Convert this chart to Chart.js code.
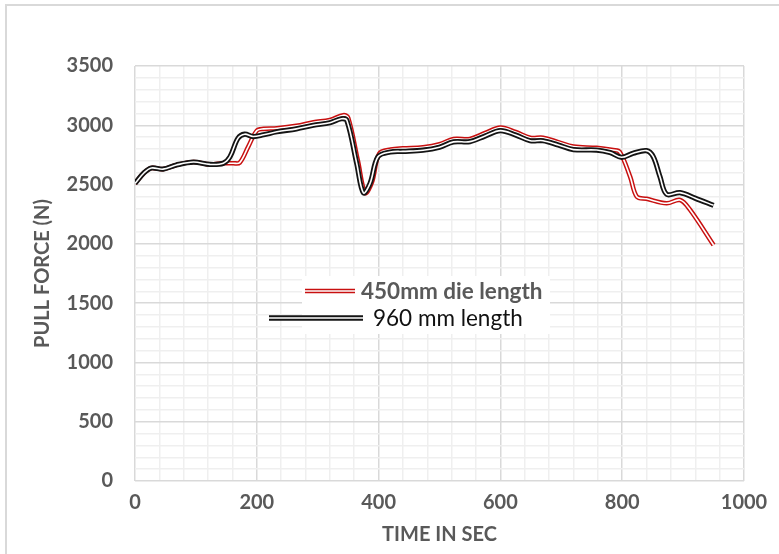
<!DOCTYPE html>
<html>
<head>
<meta charset="utf-8">
<script src="https://cdn.jsdelivr.net/npm/chart.js@4/dist/chart.umd.min.js"></script>
<style>
  html, body { margin: 0; padding: 0; background: #fff; }
  #wrap { position: relative; width: 779px; height: 554px; overflow: hidden; }
  #frame { position: absolute; left: 5px; top: 4px; width: 800px; height: 600px; border: 2px solid #d9d9d9; box-sizing: border-box; pointer-events: none; }
  canvas { position: absolute; left: 0; top: 0; }
</style>
</head>
<body>
<div id="wrap">
  <canvas id="c" width="779" height="554"></canvas>
  <div id="frame"></div>
</div>
<script>
// ---- data ----
const seriesNames = ["450mm die length", "960 mm length"];

const timeBlack = [0, 15, 27, 46, 68, 96, 123, 145, 156, 169, 180, 194, 211, 233, 265, 293, 320, 339, 348, 364, 375, 386, 399, 419, 440, 473, 500, 523, 550, 575, 600, 625, 649, 670, 695, 720, 758, 780, 799, 818, 840, 851, 862, 873, 895, 920, 950];
const forceBlack = [2510, 2600, 2640, 2630, 2665, 2690, 2670, 2680, 2735, 2890, 2925, 2905, 2920, 2945, 2970, 3000, 3022, 3055, 3040, 2680, 2430, 2510, 2735, 2775, 2780, 2790, 2815, 2860, 2862, 2910, 2955, 2918, 2870, 2870, 2834, 2795, 2791, 2770, 2730, 2764, 2786, 2735, 2567, 2418, 2432, 2385, 2325];

const timeRed = [0, 15, 27, 46, 68, 96, 123, 145, 161, 172, 186, 200, 211, 233, 265, 293, 320, 342, 350, 366, 378, 389, 401, 420, 440, 473, 500, 523, 550, 575, 600, 625, 649, 670, 695, 720, 758, 785, 796, 813, 824, 840, 873, 895, 911, 950];
const forceRed = [2510, 2600, 2640, 2630, 2665, 2690, 2670, 2680, 2680, 2685, 2820, 2955, 2970, 2975, 2995, 3025, 3045, 3085, 3065, 2700, 2430, 2520, 2760, 2795, 2805, 2815, 2840, 2885, 2885, 2935, 2980, 2943, 2895, 2895, 2858, 2820, 2810, 2791, 2775, 2567, 2398, 2380, 2342, 2370, 2290, 1990];

const xTickLabels = [0, 200, 400, 600, 800, 1000];
const yTickLabels = [0, 500, 1000, 1500, 2000, 2500, 3000, 3500];

const toPts = (xs, ys) => xs.map((x, i) => ({ x: x, y: ys[i] }));
const ptsBlack = toPts(timeBlack, forceBlack);
const ptsRed = toPts(timeRed, forceRed);

const FONT = "Lato, 'Open Sans', sans-serif";
const RED = "#c81010";
const BLACK = "#141414";

function lineDs(data, color, width) {
  return {
    data: data, borderColor: color, borderWidth: width, pointRadius: 0,
    fill: false, tension: 0.35, borderJoinStyle: 'round', borderCapStyle: 'butt'
  };
}

const legendPlugin = {
  id: 'customLegend',
  afterDatasetsDraw(chart) {
    const ctx = chart.ctx;
    ctx.save();
    ctx.fillStyle = '#fff';
    ctx.fillRect(302, 276, 248, 58);
    const entries = [
      { x1: 305, x2: 355, y: 291, color: RED, w: 4.5, tx: 361, bold: true, tc: '#595959', text: seriesNames[0] },
      { x1: 269, x2: 363, y: 318, color: BLACK, w: 5.5, tx: 373, bold: false, tc: '#111', text: seriesNames[1] }
    ];
    entries.forEach(e => {
      ctx.beginPath(); ctx.moveTo(e.x1, e.y); ctx.lineTo(e.x2, e.y);
      ctx.strokeStyle = e.color; ctx.lineWidth = e.w; ctx.stroke();
      ctx.beginPath(); ctx.moveTo(e.x1, e.y); ctx.lineTo(e.x2, e.y);
      ctx.strokeStyle = '#fff'; ctx.lineWidth = 1.6; ctx.stroke();
      ctx.font = (e.bold ? 'bold ' : '') + '22.5px ' + FONT;
      ctx.fillStyle = e.tc; ctx.textBaseline = 'middle'; ctx.textAlign = 'left';
      ctx.fillText(e.text, e.tx, e.y + 1);
    });
    ctx.restore();
  }
};

new Chart(document.getElementById('c'), {
  type: 'line',
  data: {
    datasets: [
      Object.assign(lineDs(ptsBlack, '#ffffff', 1.6), { label: '_b_inner' }),
      Object.assign(lineDs(ptsBlack, BLACK, 5.2), { label: seriesNames[1] }),
      Object.assign(lineDs(ptsRed, '#ffffff', 1.6), { label: '_r_inner' }),
      Object.assign(lineDs(ptsRed, RED, 4.6), { label: seriesNames[0] })
    ]
  },
  options: {
    responsive: false,
    animation: false,
    layout: { padding: { top: 66, right: 35, left: 0, bottom: 0 } },
    plugins: { legend: { display: false }, tooltip: { enabled: false } },
    scales: {
      x: {
        type: 'linear', min: 0, max: 1000,
        afterFit(s) { s.height = 73; },
        border: { display: false },
        grid: {
          drawTicks: false, lineWidth: 1.5,
          color: c => (c.tick && c.tick.value % 200 === 0) ? '#d9d9d9' : '#efefef'
        },
        ticks: {
          stepSize: 40, autoSkip: false, maxRotation: 0, padding: 10,
          color: '#595959', font: { family: FONT, size: 20, weight: 'bold' },
          callback: v => xTickLabels.includes(v) ? String(v) : ''
        },
        title: {
          display: true, text: 'TIME IN SEC', color: '#595959',
          font: { family: FONT, size: 20, weight: 'bold' }, padding: { top: 0, bottom: 7 }
        }
      },
      y: {
        min: 0, max: 3500,
        afterFit(s) { s.width = 135; },
        border: { display: false },
        grid: {
          drawTicks: false, lineWidth: 1.5,
          color: c => (c.tick && c.tick.value % 500 === 0) ? '#d9d9d9' : '#efefef'
        },
        ticks: {
          stepSize: 100, autoSkip: false, padding: 22,
          color: '#595959', font: { family: FONT, size: 20, weight: 'bold' },
          callback: v => yTickLabels.includes(v) ? String(v) : ''
        },
        title: {
          display: true, text: 'PULL FORCE (N)', color: '#595959',
          font: { family: FONT, size: 20, weight: 'bold' }, padding: { top: 31, bottom: 0 }
        }
      }
    }
  },
  plugins: [legendPlugin]
});
</script>
</body>
</html>
